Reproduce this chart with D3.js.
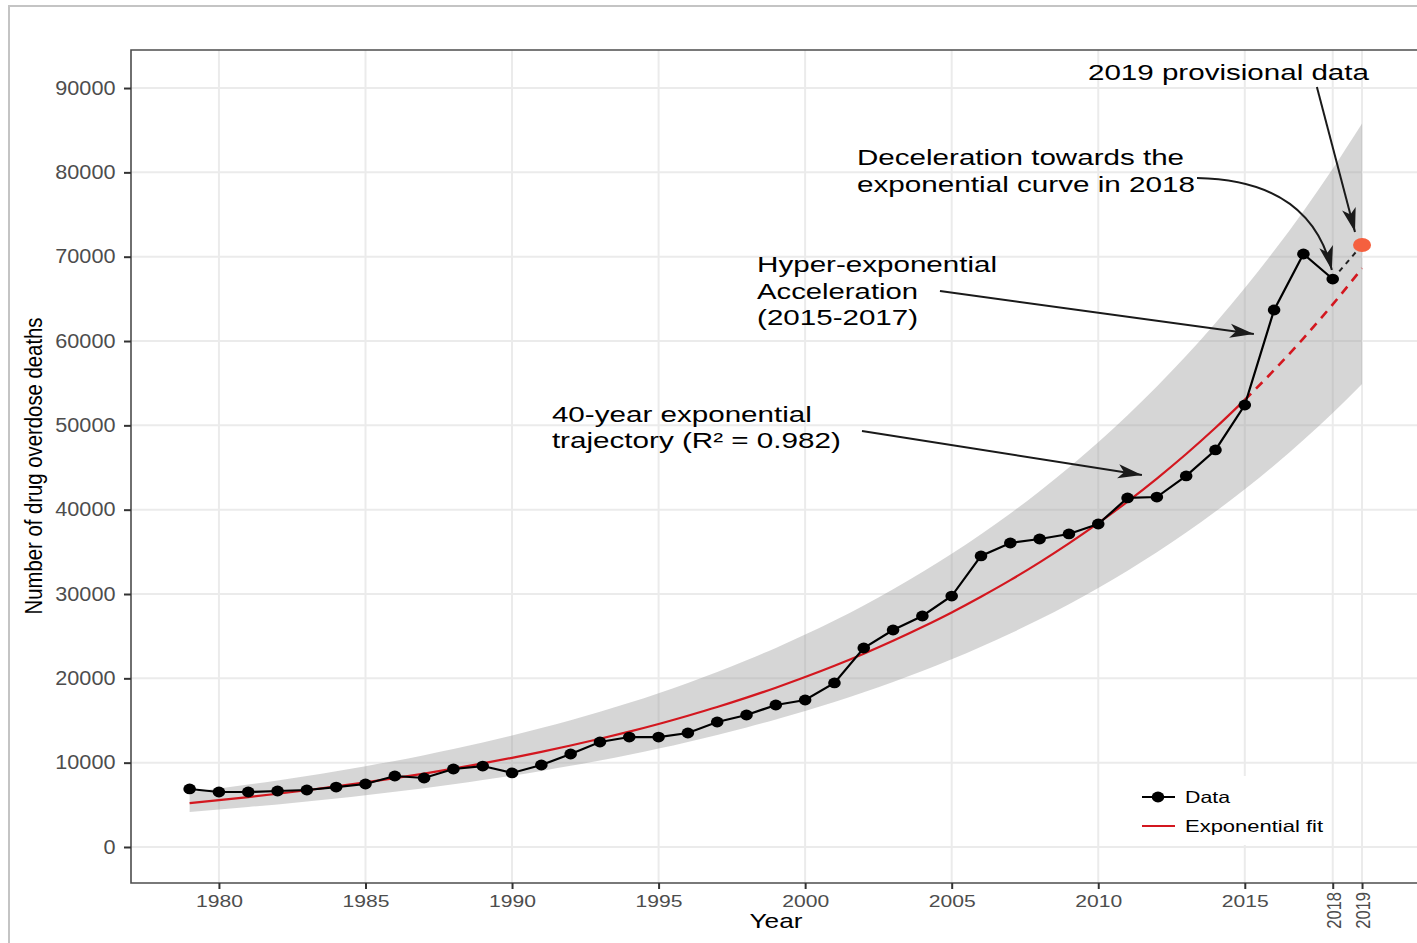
<!DOCTYPE html>
<html>
<head>
<meta charset="utf-8">
<script src="https://cdn.jsdelivr.net/npm/d3@7"></script>
<style>
  body { margin: 0; background: #fff; overflow: hidden; }
  svg { display: block; font-family: "Liberation Sans", Arial, Helvetica, sans-serif; }
</style>
</head>
<body>
<svg id="chart" width="1417" height="943"></svg>
<script>
var years = [1979, 1980, 1981, 1982, 1983, 1984, 1985, 1986, 1987, 1988,
  1989, 1990, 1991, 1992, 1993, 1994, 1995, 1996, 1997, 1998,
  1999, 2000, 2001, 2002, 2003, 2004, 2005, 2006, 2007, 2008,
  2009, 2010, 2011, 2012, 2013, 2014, 2015, 2016, 2017, 2018];
var deaths = [6880, 6520, 6520, 6640, 6760, 7110, 7470, 8420, 8180, 9250,
  9600, 8780, 9720, 11030, 12450, 13040, 13040, 13520, 14820, 15650,
  16840, 17430, 19450, 23600, 25730, 27390, 29760, 34510, 36050, 36520,
  37120, 38300, 41390, 41500, 44000, 47080, 52410, 63680, 70320, 67350];

// 2019 provisional point
var provisionalYear = 2019;
var provisionalDeaths = 71390;

// exponential fit and its band
var fitYears = [1979, 1980, 1981, 1982, 1983, 1984, 1985, 1986, 1987, 1988,
  1989, 1990, 1991, 1992, 1993, 1994, 1995, 1996, 1997, 1998,
  1999, 2000, 2001, 2002, 2003, 2004, 2005, 2006, 2007, 2008,
  2009, 2010, 2011, 2012, 2013, 2014, 2015, 2016, 2017, 2018, 2019];
var fitValues = [5200, 5550, 5920, 6310, 6730, 7180, 7660, 8170, 8710, 9290,
  9910, 10570, 11280, 12030, 12830, 13680, 14590, 15570, 16600, 17710,
  18890, 20150, 21490, 22920, 24450, 26080, 27810, 29670, 31640, 33750,
  36000, 38400, 40960, 43690, 46600, 49710, 53020, 56550, 60320, 64340, 68630];
var bandUpper = [6500, 6940, 7400, 7890, 8410, 8980, 9580, 10210, 10890, 11610,
  12390, 13210, 14100, 15040, 16040, 17100, 18240, 19460, 20750, 22140,
  23610, 25190, 26860, 28650, 30560, 32600, 34760, 37090, 39550, 42190,
  45000, 48000, 51200, 54610, 58250, 62140, 66280, 70690, 75400, 80430, 85790];
var bandLower = [4160, 4440, 4740, 5050, 5380, 5740, 6130, 6540, 6970, 7430,
  7930, 8460, 9020, 9620, 10260, 10940, 11670, 12460, 13280, 14170,
  15110, 16120, 17190, 18340, 19560, 20860, 22250, 23740, 25310, 27000,
  28800, 30720, 32770, 34950, 37280, 39770, 42420, 45240, 48260, 51470, 54900];
var fitSolidEnd = 2015;

var xTicks = [1980, 1985, 1990, 1995, 2000, 2005, 2010, 2015, 2018, 2019];
var rotatedTicks = [2018, 2019];
var yTicks = [0, 10000, 20000, 30000, 40000, 50000, 60000, 70000, 80000, 90000];

var svg = d3.select("#chart");
var panelL = 131, panelT = 50, panelB = 883, panelR = 1440;

var x = d3.scaleLinear().domain([1977, 2021.66]).range([panelL, panelR]);
var y = d3.scaleLinear().domain([-4270, 94510]).range([panelB, panelT]);

// outer frame
svg.append("path")
  .attr("d", "M9,943 L9,6 L1417,6")
  .attr("fill", "none").attr("stroke", "#c4c4c4").attr("stroke-width", 2);

var defs = svg.append("defs");
defs.append("marker")
  .attr("id", "arrow")
  .attr("viewBox", "0 -8 24 16")
  .attr("refX", 24).attr("refY", 0)
  .attr("markerUnits", "userSpaceOnUse")
  .attr("markerWidth", 24).attr("markerHeight", 16)
  .attr("orient", "auto")
  .append("path")
  .attr("d", "M0,-7 L24,0 L0,7 L6,0 Z")
  .attr("fill", "#1a1a1a");

// grid
var grid = svg.append("g");
grid.selectAll(".gy").data(yTicks).join("line")
  .attr("x1", panelL).attr("x2", panelR)
  .attr("y1", d => y(d)).attr("y2", d => y(d))
  .attr("stroke", "#ebebeb").attr("stroke-width", 2);
grid.selectAll(".gx").data(xTicks).join("line")
  .attr("x1", d => x(d)).attr("x2", d => x(d))
  .attr("y1", panelT).attr("y2", panelB)
  .attr("stroke", "#ebebeb").attr("stroke-width", 2);

// band
var fitData = fitYears.map((yr, i) => ({year: yr, fit: fitValues[i], lo: bandLower[i], hi: bandUpper[i]}));
var area = d3.area()
  .x(d => x(d.year)).y0(d => y(d.lo)).y1(d => y(d.hi))
  .curve(d3.curveMonotoneX);
svg.append("path").datum(fitData)
  .attr("d", area)
  .attr("fill", "#999").attr("fill-opacity", 0.4);

// fit line, solid then dashed
var fitLine = d3.line().x(d => x(d.year)).y(d => y(d.fit)).curve(d3.curveMonotoneX);
svg.append("path").datum(fitData.filter(d => d.year <= fitSolidEnd))
  .attr("d", fitLine)
  .attr("fill", "none").attr("stroke", "#d3171f").attr("stroke-width", 2.2);
svg.append("path").datum(fitData.filter(d => d.year >= fitSolidEnd))
  .attr("d", fitLine)
  .attr("fill", "none").attr("stroke", "#d3171f").attr("stroke-width", 2.6)
  .attr("stroke-dasharray", "9,7");

// data
var obs = years.map((yr, i) => ({year: yr, value: deaths[i]}));
var line = d3.line().x(d => x(d.year)).y(d => y(d.value));
svg.append("path").datum(obs)
  .attr("d", line)
  .attr("fill", "none").attr("stroke", "#000").attr("stroke-width", 2.2);

var last = obs[obs.length - 1];
svg.append("path").datum([last, {year: provisionalYear, value: provisionalDeaths}])
  .attr("d", line)
  .attr("fill", "none").attr("stroke", "#222").attr("stroke-width", 2)
  .attr("stroke-dasharray", "5,5");

svg.selectAll(".pt").data(obs).join("ellipse")
  .attr("cx", d => x(d.year)).attr("cy", d => y(d.value))
  .attr("rx", 6.3).attr("ry", 5.4)
  .attr("fill", "#000");

svg.append("ellipse")
  .attr("cx", x(provisionalYear)).attr("cy", y(provisionalDeaths))
  .attr("rx", 9).attr("ry", 7)
  .attr("fill", "#f5603f");

// legend
var lg = svg.append("g");
lg.append("rect").attr("x", 1128).attr("y", 776).attr("width", 202).attr("height", 69).attr("fill", "#fff");
lg.append("line").attr("x1", 1142).attr("x2", 1175).attr("y1", 797).attr("y2", 797)
  .attr("stroke", "#000").attr("stroke-width", 2.2);
lg.append("ellipse").attr("cx", 1158).attr("cy", 797).attr("rx", 6.3).attr("ry", 5.4).attr("fill", "#000");
lg.append("line").attr("x1", 1142).attr("x2", 1175).attr("y1", 826).attr("y2", 826)
  .attr("stroke", "#d3171f").attr("stroke-width", 2.2);
lg.append("text").attr("x", 1185).attr("y", 803).attr("font-size", 16.5)
  .attr("textLength", 45).attr("lengthAdjust", "spacingAndGlyphs").text("Data");
lg.append("text").attr("x", 1185).attr("y", 832).attr("font-size", 16.5)
  .attr("textLength", 138).attr("lengthAdjust", "spacingAndGlyphs").text("Exponential fit");

// panel border
svg.append("path")
  .attr("d", `M${panelR},${panelT} L${panelL},${panelT} L${panelL},${panelB} L${panelR},${panelB}`)
  .attr("fill", "none").attr("stroke", "#4d4d4d").attr("stroke-width", 1.6);

// axes
var xAxis = svg.append("g").attr("transform", `translate(0,${panelB})`)
  .call(d3.axisBottom(x).tickValues(xTicks).tickSize(6).tickPadding(6).tickFormat(d3.format("d")));
xAxis.select(".domain").remove();
xAxis.selectAll(".tick line").attr("stroke", "#333").attr("stroke-width", 2);
xAxis.selectAll(".tick text")
  .attr("fill", "#4d4d4d").attr("font-size", 16.5).attr("font-family", null)
  .attr("transform", "scale(1.28,1)");
xAxis.selectAll(".tick text").filter(d => rotatedTicks.includes(d))
  .attr("text-anchor", "end")
  .attr("x", -9).attr("y", 0).attr("dy", "0.36em")
  .attr("transform", "scale(1.25,1) rotate(-90)");

var yAxis = svg.append("g").attr("transform", `translate(${panelL},0)`)
  .call(d3.axisLeft(y).tickValues(yTicks).tickSize(7).tickPadding(7).tickFormat(d3.format("d")));
yAxis.select(".domain").remove();
yAxis.selectAll(".tick line").attr("stroke", "#333").attr("stroke-width", 2);
yAxis.selectAll(".tick text")
  .attr("fill", "#4d4d4d").attr("font-size", 19.5).attr("font-family", null)
  .attr("transform", "scale(1.11,1)");

// axis titles
svg.append("text")
  .attr("transform", "translate(776,928)")
  .attr("text-anchor", "middle").attr("font-size", 21)
  .attr("textLength", 53).attr("lengthAdjust", "spacingAndGlyphs")
  .text("Year");
svg.append("text")
  .attr("transform", "translate(42,466) scale(1.15,1) rotate(-90)")
  .attr("text-anchor", "middle").attr("font-size", 20)
  .attr("textLength", 297).attr("lengthAdjust", "spacingAndGlyphs")
  .text("Number of drug overdose deaths");

// annotations, anchored in data space
var notes = [
  {year: 2009.65, value: 90950, lines: ["2019 provisional data"], widths: [281]},
  {year: 2001.77, value: 80870, lines: ["Deceleration towards the", "exponential curve in 2018"], widths: [327, 338]},
  {year: 1998.36, value: 68180, lines: ["Hyper-exponential", "Acceleration", "(2015-2017)"], widths: [240, 161, 161]},
  {year: 1991.36, value: 50400, lines: ["40-year exponential", "trajectory (R\u00b2 = 0.982)"], widths: [260, 289]}
];
notes.forEach(n => {
  n.lines.forEach((t, i) => {
    svg.append("text")
      .attr("x", x(n.year)).attr("y", y(n.value) + i * 26.5)
      .attr("font-size", 22.5).attr("fill", "#000")
      .attr("textLength", n.widths[i]).attr("lengthAdjust", "spacingAndGlyphs")
      .text(t);
  });
});

var arrows = [
  {from: [2017.46, 90120], to: [2018.76, 72930]},
  {from: [2013.37, 79330], ctrl: [2017.22, 79090], to: [2017.97, 68420]},
  {from: [2004.60, 65930], to: [2015.31, 60830]},
  {from: [2001.94, 49330], to: [2011.49, 44110]}
];
arrows.forEach(a => {
  var p = d3.path();
  p.moveTo(x(a.from[0]), y(a.from[1]));
  if (a.ctrl) p.quadraticCurveTo(x(a.ctrl[0]), y(a.ctrl[1]), x(a.to[0]), y(a.to[1]));
  else p.lineTo(x(a.to[0]), y(a.to[1]));
  svg.append("path")
    .attr("d", p.toString())
    .attr("fill", "none").attr("stroke", "#1a1a1a").attr("stroke-width", 2)
    .attr("marker-end", "url(#arrow)");
});
</script>
</body>
</html>
